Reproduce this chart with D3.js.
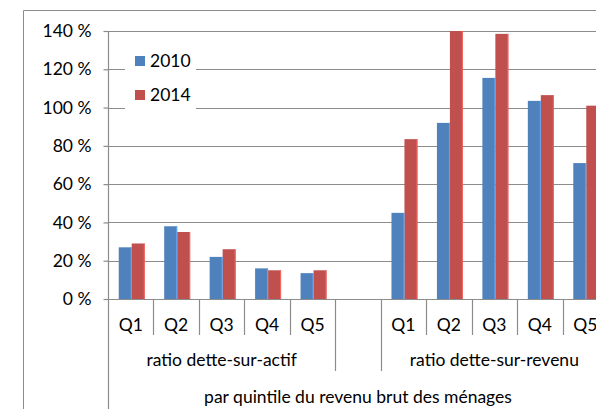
<!DOCTYPE html>
<html>
<head>
<meta charset="utf-8">
<script src="https://cdn.jsdelivr.net/npm/d3@7"></script>
<style>
  body { margin: 0; background: #fff; }
  text { font-family: Lato, "Liberation Sans", sans-serif; font-size: 17.5px; fill: #000; }
</style>
</head>
<body>
<div id="debt-chart"></div>
<script>
// #1 - the data
var quintiles = ['Q1', 'Q2', 'Q3', 'Q4', 'Q5'];
var groupLabels = ['ratio dette-sur-actif', 'ratio dette-sur-revenu'];
var years = ['2010', '2014'];
var actif2010 = [27, 38, 22, 16, 13.5];
var actif2014 = [29, 35, 26, 15, 15];
var revenu2010 = [45, 92, 115.5, 103.5, 71];
var revenu2014 = [83.5, 140, 138.5, 106.5, 101];
var yTicks = [0, 20, 40, 60, 80, 100, 120, 140];
var axisTitle = 'par quintile du revenu brut des ménages';
var colors = ['#4F81BD', '#C0504D'];

var width = 596, height = 409;
var plot = {left: 108, right: 608, top: 31, bottom: 299};
var gray = '#8c8c8c';

// one slot per quintile, an empty slot between the two groups
var slots = [];
quintiles.forEach(function(q, i) {
  slots.push({key: 'a' + q, label: q, values: [actif2010[i], actif2014[i]]});
});
slots.push({key: 'gap', label: '', values: []});
quintiles.forEach(function(q, i) {
  slots.push({key: 'r' + q, label: q, values: [revenu2010[i], revenu2014[i]]});
});

// #2 - svg
var svg = d3.select('#debt-chart').append('svg')
  .attr('width', width)
  .attr('height', height);

// #3 - scales
var x = d3.scaleBand().domain(slots.map(d => d.key)).range([plot.left, plot.right]);
var xSub = d3.scaleBand().domain(years).range([0, x.bandwidth()]).paddingOuter(0.75);
var y = d3.scaleLinear().domain([0, 140]).range([plot.bottom, plot.top]);

// outer frame (left and top edges are all that show)
svg.append('path')
  .attr('d', 'M23.5,' + height + 'V10.5H' + width)
  .attr('fill', 'none')
  .attr('stroke', gray);

// gridlines
svg.append('g').selectAll('line')
  .data(yTicks).enter().append('line')
  .attr('x1', plot.left)
  .attr('x2', width)
  .attr('y1', d => Math.round(y(d)) + 0.5)
  .attr('y2', d => Math.round(y(d)) + 0.5)
  .attr('stroke', gray)
  .attr('stroke-width', 1.2);

// #4 - bars
var bars = svg.append('g').selectAll('g')
  .data(slots).enter().append('g')
  .attr('transform', d => 'translate(' + (x(d.key) + 1) + ',0)');

bars.selectAll('.bar')
  .data(d => d.values).enter().append('rect')
  .attr('class', 'bar')
  .attr('x', (d, i) => xSub(years[i]))
  .attr('width', xSub.bandwidth())
  .attr('y', d => y(d))
  .attr('height', d => y(0) - y(d))
  .attr('fill', (d, i) => colors[i]);

// the light edge on the right side of each bar
bars.selectAll('.edge')
  .data(d => d.values).enter().append('rect')
  .attr('class', 'edge')
  .attr('x', (d, i) => xSub(years[i]) + xSub.bandwidth() - 1)
  .attr('width', 1)
  .attr('y', d => y(d))
  .attr('height', d => y(0) - y(d))
  .attr('fill', (d, i) => d3.color(colors[i]).brighter(0.7));

// #5 - y axis
var yAxis = svg.append('g')
  .attr('transform', 'translate(' + (plot.left + 0.5) + ',0)')
  .call(d3.axisLeft(y).tickValues(yTicks).tickSize(5).tickPadding(12).tickFormat(d => d + ' %'));
yAxis.select('.domain').remove();
yAxis.selectAll('.tick line').attr('stroke', gray).attr('stroke-width', 1.2);
yAxis.selectAll('.tick text').style('font-size', '17.5px').attr('font-family', null);

svg.append('line')
  .attr('x1', plot.left + 0.5).attr('x2', plot.left + 0.5)
  .attr('y1', plot.top).attr('y2', height)
  .attr('stroke', gray).attr('stroke-width', 1.2);

// #6 - multi level x axis
var boundaries = slots.slice(1).map(d => x(d.key));
svg.append('g').selectAll('line')
  .data(boundaries).enter().append('line')
  .attr('x1', d => Math.round(d) + 0.5)
  .attr('x2', d => Math.round(d) + 0.5)
  .attr('y1', plot.bottom)
  .attr('y2', (d, i) => (slots[i + 1].key == 'gap' || slots[i].key == 'gap') ? 371 : 335)
  .attr('stroke', gray)
  .attr('stroke-width', 1.2);

svg.append('g').selectAll('text')
  .data(slots).enter().append('text')
  .attr('x', d => x(d.key) + x.bandwidth() / 2)
  .attr('y', 331)
  .attr('text-anchor', 'middle')
  .text(d => d.label);

var groupCenters = [
  (x('aQ1') + x('aQ5') + x.bandwidth()) / 2,
  (x('rQ1') + x('rQ5') + x.bandwidth()) / 2
];
svg.append('g').selectAll('text')
  .data(groupLabels).enter().append('text')
  .attr('x', (d, i) => groupCenters[i])
  .attr('y', 366)
  .attr('text-anchor', 'middle')
  .text(d => d);

svg.append('text')
  .attr('x', (plot.left + plot.right) / 2)
  .attr('y', 403)
  .attr('text-anchor', 'middle')
  .text(axisTitle);

// #7 - legend, sits on a white box over the gridlines
var legend = svg.append('g');
legend.append('rect')
  .attr('x', 125).attr('y', 45)
  .attr('width', 71).attr('height', 66)
  .attr('fill', '#fff');

var items = legend.selectAll('.lg-item')
  .data(years).enter().append('g')
  .attr('class', 'lg-item')
  .attr('transform', (d, i) => 'translate(135,' + (56 + i * 34) + ')');
items.append('rect')
  .attr('width', 10).attr('height', 10)
  .attr('fill', (d, i) => colors[i]);
items.append('text')
  .attr('x', 15)
  .attr('y', 11)
  .text(d => d);
</script>
</body>
</html>
